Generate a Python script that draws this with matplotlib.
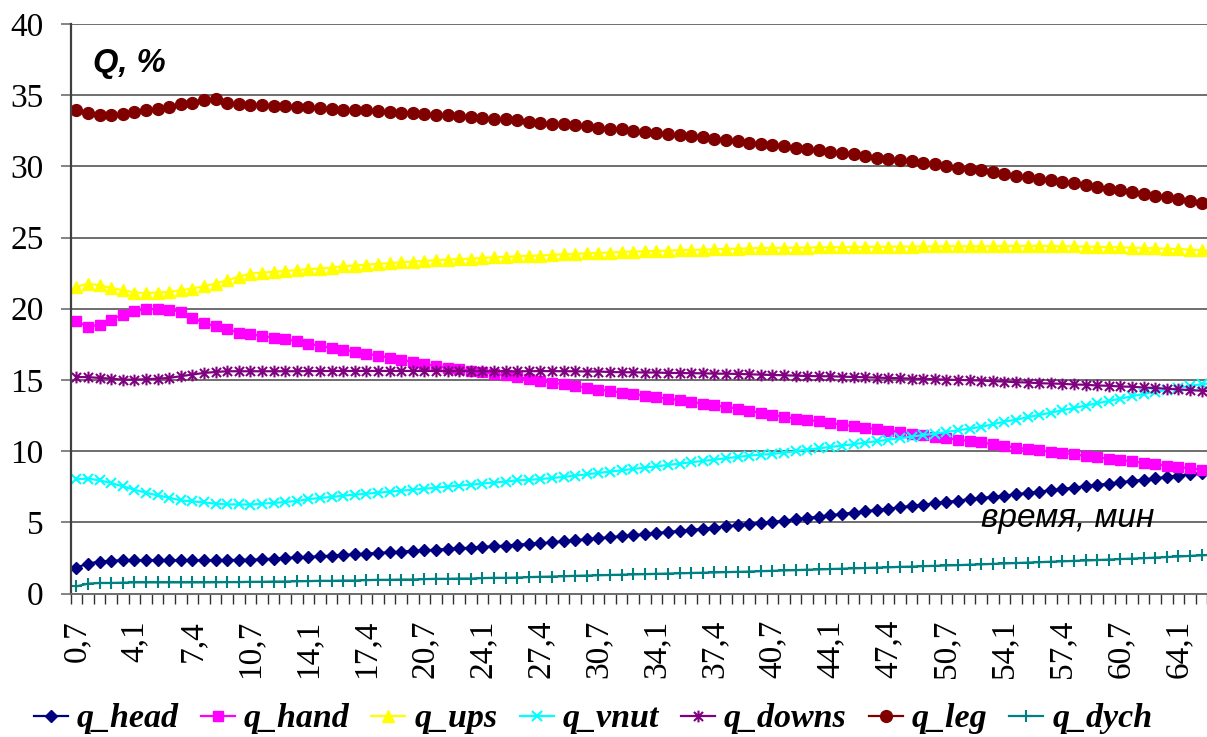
import matplotlib
matplotlib.use("Agg")
import matplotlib.pyplot as plt
from matplotlib.path import Path
from matplotlib.ticker import FixedLocator

SERIF = "Liberation Serif"
SANS = "Liberation Sans"
plt.rcParams["font.family"] = [SERIF]

# time of each sample, minutes
time_min = [
    0.7, 1.4, 2.1, 2.7, 3.4, 4.1, 4.7, 5.4, 6.1, 6.7, 7.4, 8.1, 8.7, 9.4, 10.1,
    10.7, 11.4, 12.1, 12.7, 13.4, 14.1, 14.7, 15.4, 16.1, 16.7, 17.4, 18.1, 18.7,
    19.4, 20.1, 20.7, 21.4, 22.1, 22.7, 23.4, 24.1, 24.7, 25.4, 26.1, 26.7, 27.4,
    28.1, 28.7, 29.4, 30.1, 30.7, 31.4, 32.1, 32.7, 33.4, 34.1, 34.7, 35.4, 36.1,
    36.7, 37.4, 38.1, 38.7, 39.4, 40.1, 40.7, 41.4, 42.1, 42.7, 43.4, 44.1, 44.7,
    45.4, 46.1, 46.7, 47.4, 48.1, 48.7, 49.4, 50.1, 50.7, 51.4, 52.1, 52.7, 53.4,
    54.1, 54.7, 55.4, 56.1, 56.7, 57.4, 58.1, 58.7, 59.4, 60.1, 60.7, 61.4, 62.1,
    62.7, 63.4, 64.1, 64.7, 65.4, 66.1,
]

q_head = [
    1.82, 2.10, 2.24, 2.30, 2.33, 2.33, 2.33, 2.33, 2.33, 2.33, 2.33, 2.33, 2.33, 2.35, 2.36, 2.38, 2.40, 2.45, 2.49, 2.53,
    2.56, 2.61, 2.66, 2.71, 2.75, 2.80, 2.85, 2.89, 2.94, 2.99, 3.03, 3.08, 3.13, 3.17, 3.22, 3.27, 3.31, 3.36, 3.43, 3.48,
    3.52, 3.59, 3.67, 3.74, 3.81, 3.88, 3.95, 4.02, 4.09, 4.16, 4.25, 4.32, 4.39, 4.46, 4.55, 4.63, 4.72, 4.79, 4.88, 4.95,
    5.02, 5.12, 5.21, 5.30, 5.40, 5.49, 5.59, 5.68, 5.77, 5.87, 5.96, 6.05, 6.15, 6.24, 6.33, 6.43, 6.52, 6.62, 6.71, 6.78,
    6.87, 6.97, 7.06, 7.15, 7.25, 7.34, 7.44, 7.53, 7.62, 7.72, 7.81, 7.90, 8.00, 8.09, 8.19, 8.28, 8.37, 8.47, 8.54,
]

q_hand = [
    19.15, 18.72, 18.89, 19.24, 19.59, 19.85, 19.96, 19.99, 19.94, 19.78, 19.38, 19.00, 18.77, 18.56, 18.33, 18.21, 18.09, 17.97, 17.86, 17.72,
    17.55, 17.39, 17.25, 17.13, 16.99, 16.85, 16.71, 16.57, 16.43, 16.26, 16.12, 15.98, 15.87, 15.77, 15.63, 15.54, 15.44, 15.33, 15.21, 15.07,
    14.91, 14.82, 14.70, 14.58, 14.46, 14.32, 14.23, 14.11, 14.02, 13.90, 13.78, 13.69, 13.57, 13.45, 13.34, 13.22, 13.10, 12.99, 12.82, 12.70,
    12.56, 12.40, 12.28, 12.19, 12.10, 11.98, 11.86, 11.74, 11.65, 11.53, 11.44, 11.35, 11.23, 11.11, 11.00, 10.90, 10.81, 10.71, 10.62, 10.48,
    10.36, 10.25, 10.15, 10.06, 9.96, 9.87, 9.78, 9.66, 9.57, 9.47, 9.38, 9.29, 9.17, 9.08, 8.98, 8.89, 8.79, 8.70, 8.61,
]

q_ups = [
    21.53, 21.77, 21.65, 21.46, 21.30, 21.14, 21.11, 21.14, 21.18, 21.30, 21.42, 21.58, 21.77, 22.00, 22.24, 22.47, 22.54, 22.59, 22.66, 22.70,
    22.78, 22.82, 22.89, 22.99, 23.03, 23.10, 23.15, 23.20, 23.27, 23.31, 23.36, 23.41, 23.45, 23.48, 23.52, 23.57, 23.62, 23.64, 23.69, 23.71,
    23.74, 23.78, 23.83, 23.85, 23.90, 23.92, 23.95, 23.99, 24.01, 24.04, 24.06, 24.08, 24.11, 24.13, 24.15, 24.17, 24.20, 24.22, 24.24, 24.26,
    24.27, 24.28, 24.29, 24.30, 24.31, 24.32, 24.33, 24.34, 24.35, 24.35, 24.36, 24.37, 24.37, 24.38, 24.38, 24.39, 24.39, 24.39, 24.39, 24.39,
    24.40, 24.41, 24.41, 24.41, 24.40, 24.39, 24.38, 24.37, 24.35, 24.33, 24.31, 24.29, 24.27, 24.24, 24.22, 24.19, 24.15, 24.11, 24.06,
]

q_vnut = [
    8.02, 8.07, 7.95, 7.76, 7.53, 7.29, 7.08, 6.89, 6.73, 6.54, 6.47, 6.40, 6.31, 6.26, 6.26, 6.24, 6.31, 6.36, 6.43, 6.50,
    6.62, 6.71, 6.78, 6.87, 6.94, 7.01, 7.08, 7.15, 7.22, 7.29, 7.36, 7.43, 7.51, 7.58, 7.65, 7.72, 7.79, 7.86, 7.95, 7.98,
    8.04, 8.11, 8.19, 8.28, 8.37, 8.47, 8.56, 8.65, 8.75, 8.84, 8.93, 9.03, 9.12, 9.22, 9.31, 9.40, 9.50, 9.59, 9.68, 9.75,
    9.80, 9.89, 9.99, 10.11, 10.20, 10.29, 10.39, 10.48, 10.60, 10.69, 10.81, 10.90, 11.02, 11.13, 11.23, 11.34, 11.46, 11.58, 11.70, 11.88,
    12.07, 12.21, 12.38, 12.54, 12.70, 12.87, 13.03, 13.20, 13.36, 13.52, 13.69, 13.85, 14.02, 14.16, 14.30, 14.44, 14.58, 14.70, 14.79,
]

q_downs = [
    15.20, 15.20, 15.14, 15.09, 15.02, 15.02, 15.05, 15.09, 15.14, 15.26, 15.38, 15.49, 15.56, 15.61, 15.61, 15.61, 15.61, 15.61, 15.61, 15.61,
    15.62, 15.62, 15.63, 15.63, 15.63, 15.63, 15.63, 15.63, 15.63, 15.63, 15.63, 15.63, 15.62, 15.62, 15.62, 15.61, 15.61, 15.61, 15.61, 15.61,
    15.62, 15.62, 15.61, 15.61, 15.59, 15.59, 15.56, 15.54, 15.54, 15.52, 15.52, 15.49, 15.49, 15.47, 15.47, 15.44, 15.44, 15.42, 15.40, 15.37,
    15.35, 15.33, 15.30, 15.28, 15.26, 15.26, 15.23, 15.21, 15.19, 15.16, 15.14, 15.12, 15.09, 15.07, 15.05, 15.02, 15.00, 14.98, 14.96, 14.91,
    14.89, 14.84, 14.82, 14.77, 14.75, 14.73, 14.68, 14.66, 14.61, 14.59, 14.54, 14.52, 14.47, 14.43, 14.38, 14.33, 14.29, 14.24, 14.19,
]

q_leg = [
    33.95, 33.78, 33.64, 33.64, 33.71, 33.83, 33.95, 34.06, 34.18, 34.37, 34.48, 34.63, 34.70, 34.48, 34.37, 34.32, 34.32, 34.27, 34.23, 34.20,
    34.18, 34.13, 34.06, 33.99, 33.99, 33.95, 33.90, 33.83, 33.78, 33.76, 33.71, 33.64, 33.59, 33.55, 33.48, 33.43, 33.36, 33.31, 33.24, 33.15,
    33.08, 33.01, 32.96, 32.89, 32.82, 32.73, 32.66, 32.59, 32.49, 32.42, 32.35, 32.26, 32.19, 32.12, 32.03, 31.93, 31.84, 31.77, 31.67, 31.58,
    31.51, 31.42, 31.32, 31.23, 31.14, 31.04, 30.95, 30.85, 30.74, 30.62, 30.55, 30.43, 30.36, 30.25, 30.15, 30.04, 29.92, 29.82, 29.73, 29.59,
    29.45, 29.33, 29.24, 29.12, 29.03, 28.93, 28.82, 28.70, 28.54, 28.44, 28.33, 28.21, 28.09, 27.95, 27.86, 27.72, 27.58, 27.44, 27.30,
]

q_dych = [
    0.50, 0.69, 0.74, 0.74, 0.76, 0.78, 0.78, 0.78, 0.78, 0.78, 0.78, 0.78, 0.79, 0.80, 0.80, 0.82, 0.82, 0.84, 0.84, 0.86,
    0.87, 0.89, 0.89, 0.91, 0.91, 0.94, 0.96, 0.96, 0.98, 0.98, 1.01, 1.03, 1.03, 1.05, 1.05, 1.08, 1.10, 1.10, 1.12, 1.15,
    1.17, 1.19, 1.21, 1.24, 1.26, 1.28, 1.30, 1.32, 1.34, 1.36, 1.38, 1.40, 1.42, 1.44, 1.46, 1.48, 1.50, 1.52, 1.54, 1.57,
    1.59, 1.62, 1.64, 1.67, 1.69, 1.72, 1.74, 1.77, 1.79, 1.82, 1.84, 1.87, 1.89, 1.92, 1.94, 1.97, 1.99, 2.02, 2.05, 2.08,
    2.11, 2.14, 2.17, 2.20, 2.23, 2.26, 2.29, 2.32, 2.35, 2.38, 2.42, 2.45, 2.48, 2.52, 2.56, 2.60, 2.64, 2.68, 2.72,
]

y_ticks = [0, 5, 10, 15, 20, 25, 30, 35, 40]
label_every = 5

# Excel-style asterisk: an "x" crossed by a vertical bar
asterisk = Path(
    [(-1, -1), (1, 1), (-1, 1), (1, -1), (0, -1.3), (0, 1.3)],
    [Path.MOVETO, Path.LINETO, Path.MOVETO, Path.LINETO, Path.MOVETO, Path.LINETO],
)

series = [
    ("q_head", q_head, "#000080", dict(marker="D", ms=6.0)),
    ("q_hand", q_hand, "#FF00FF", dict(marker="s", ms=7.5)),
    ("q_ups", q_ups, "#FFFF00", dict(marker="^", ms=8.5)),
    ("q_vnut", q_vnut, "#00FFFF", dict(marker="x", ms=7.5, mew=1.5)),
    ("q_downs", q_downs, "#800080", dict(marker=asterisk, ms=8.5, mew=1.5, mfc="none")),
    ("q_leg", q_leg, "#800000", dict(marker="o", ms=8.5)),
    ("q_dych", q_dych, "#008080", dict(marker="+", ms=8.5, mew=1.5)),
]

W, H, DPI = 1207, 737, 100
fig = plt.figure(figsize=(W / DPI, H / DPI), dpi=DPI)
fig.patch.set_facecolor("white")

n = len(time_min)
cat_px = 11.6
left_px, top_px, bottom_px = 70.5, 24.0, 593.5
ax = fig.add_axes([left_px / W, 1 - bottom_px / H,
                   n * cat_px / W, (bottom_px - top_px) / H])

x = list(range(n))
for name, vals, color, style in series:
    mfc = style.pop("mfc", color)
    ax.plot(x, vals, color=color, lw=1.6, label=name, mec=color, mfc=mfc, **style)

ax.set_xlim(-0.5, n - 0.5)
ax.set_ylim(0, 40)

# horizontal grid
for yv in y_ticks:
    ax.axhline(yv, color="#6e6e6e", lw=1.4, zorder=0.5)

ax.set_yticks(y_ticks)
ax.set_yticklabels([str(v) for v in y_ticks], fontfamily=SERIF)
ax.tick_params(axis="y", direction="out", length=7.5, width=1.2, color="#6e6e6e",
               pad=12, labelsize=24)

# category labels every 5th sample, tick marks at every category boundary
ax.xaxis.set_major_locator(FixedLocator(x[::label_every]))
ax.set_xticklabels([f"{time_min[i]:.1f}".replace(".", ",") for i in x[::label_every]],
                   rotation=90, fontfamily=SERIF)
ax.xaxis.set_minor_locator(FixedLocator([i - 0.5 for i in range(n + 1)]))
ax.tick_params(axis="x", which="major", length=0, pad=19, labelsize=24)
ax.tick_params(axis="x", which="minor", direction="out", length=7.5, width=1.0,
               color="#303030")

for side in ("top", "right"):
    ax.spines[side].set_visible(False)
ax.spines["left"].set_color("#404040")
ax.spines["left"].set_linewidth(1.6)
ax.spines["bottom"].set_color("#6e6e6e")
ax.spines["bottom"].set_linewidth(1.4)

fig.text(93 / W, 1 - 72 / H, "Q, %", fontfamily=SANS,
         fontweight="bold", fontstyle="italic", fontsize=23.5, va="baseline", ha="left")
fig.text(981 / W, 1 - 527 / H, "время, мин", fontfamily=SANS,
         fontstyle="italic", fontsize=24, va="baseline", ha="left")

leg = fig.legend(loc="center", bbox_to_anchor=(593 / W, 1 - 719 / H), ncol=7,
                 frameon=False, handlelength=1.0, handletextpad=0.26,
                 columnspacing=0.65, markerscale=1.0,
                 prop=dict(family=SERIF, weight="bold", style="italic", size=24.5))

fig.savefig("out.png", dpi=DPI, facecolor="white")
